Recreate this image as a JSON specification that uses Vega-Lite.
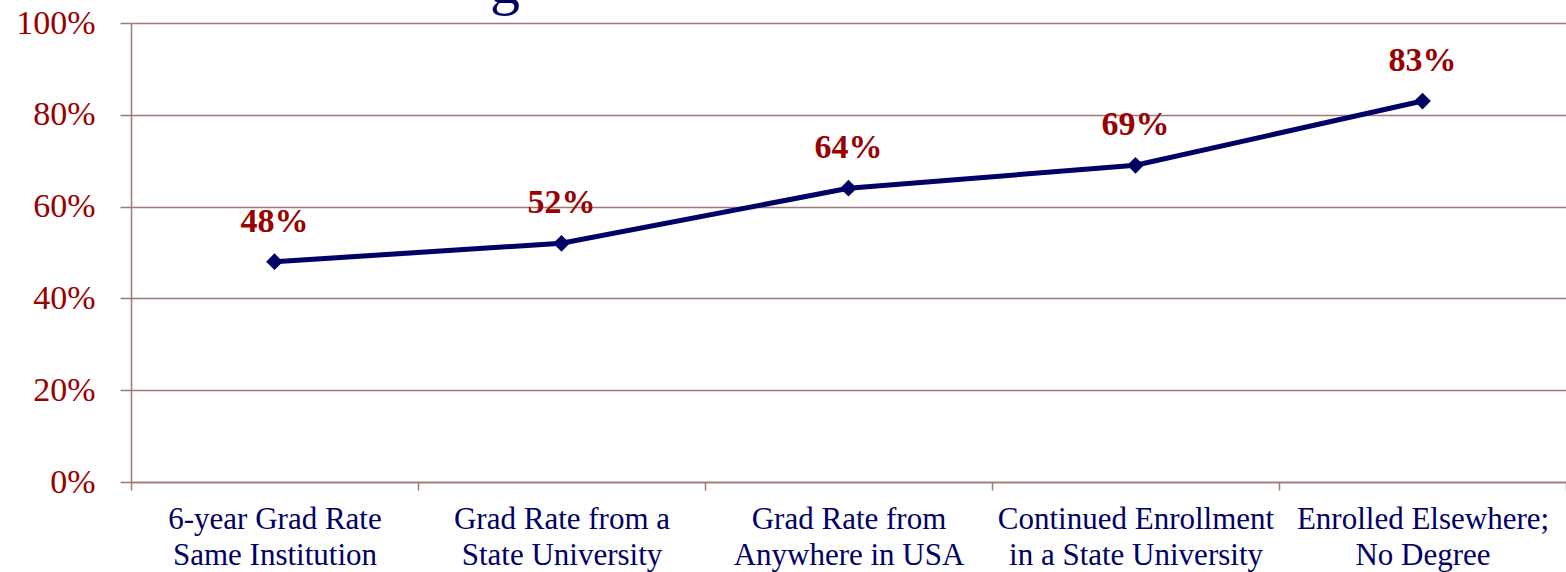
{
  "$schema": "https://vega.github.io/schema/vega-lite/v6.json",
  "width": 1435,
  "height": 459,
  "autosize": "none",
  "padding": {"left": 131, "top": 23, "right": 0, "bottom": 90},
  "background": "white",
  "title": {
    "text": "g",
    "font": "Liberation Serif",
    "fontSize": 60,
    "fontWeight": "normal",
    "color": "#000066",
    "anchor": "start",
    "frame": "group",
    "baseline": "alphabetic",
    "dx": 359,
    "dy": 57,
    "offset": 0
  },
  "data": {
    "values": [
      {"category": "6-year Grad Rate|Same Institution", "rate": 0.48},
      {"category": "Grad Rate from a|State University", "rate": 0.52},
      {"category": "Grad Rate from|Anywhere in USA", "rate": 0.64},
      {"category": "Continued Enrollment|in a State University", "rate": 0.69},
      {"category": "Enrolled Elsewhere;|No Degree", "rate": 0.83}
    ]
  },
  "config": {
    "view": {"stroke": null},
    "axis": {
      "domainColor": "#a07878",
      "tickColor": "#a07878",
      "gridColor": "#a07878",
      "domainWidth": 1.5,
      "tickWidth": 1.5,
      "gridWidth": 1.5,
      "titleFont": "Liberation Serif",
      "labelFont": "Liberation Serif"
    }
  },
  "encoding": {
    "x": {
      "field": "category",
      "type": "nominal",
      "sort": null,
      "title": null,
      "scale": {"paddingInner": 0, "paddingOuter": 0},
      "axis": {
        "labelAngle": 0,
        "labelExpr": "datum.value ? split(datum.value, '|') : ''",
        "labelFontSize": 31,
        "labelColor": "#000066",
        "labelLineHeight": 36,
        "labelPadding": 14,
        "labelLimit": 0,
        "tickSize": 8,
        "tickBand": "extent",
        "grid": false
      }
    },
    "y": {
      "field": "rate",
      "type": "quantitative",
      "title": null,
      "scale": {"domain": [0, 1], "nice": false},
      "axis": {
        "format": ".0%",
        "values": [0, 0.2, 0.4, 0.6, 0.8, 1.0],
        "labelFontSize": 34,
        "labelColor": "#990000",
        "tickSize": 11,
        "labelPadding": 25,
        "grid": true
      }
    }
  },
  "layer": [
    {
      "mark": {"type": "line", "color": "#000066", "strokeWidth": 5}
    },
    {
      "mark": {"type": "point", "shape": "diamond", "filled": true, "color": "#000066", "size": 280, "opacity": 1}
    },
    {
      "mark": {"type": "text", "font": "Liberation Serif", "fontSize": 34, "fontWeight": "bold", "color": "#990000", "baseline": "middle", "dy": -40},
      "encoding": {
        "text": {"field": "rate", "type": "quantitative", "format": ".0%"}
      }
    }
  ]
}
